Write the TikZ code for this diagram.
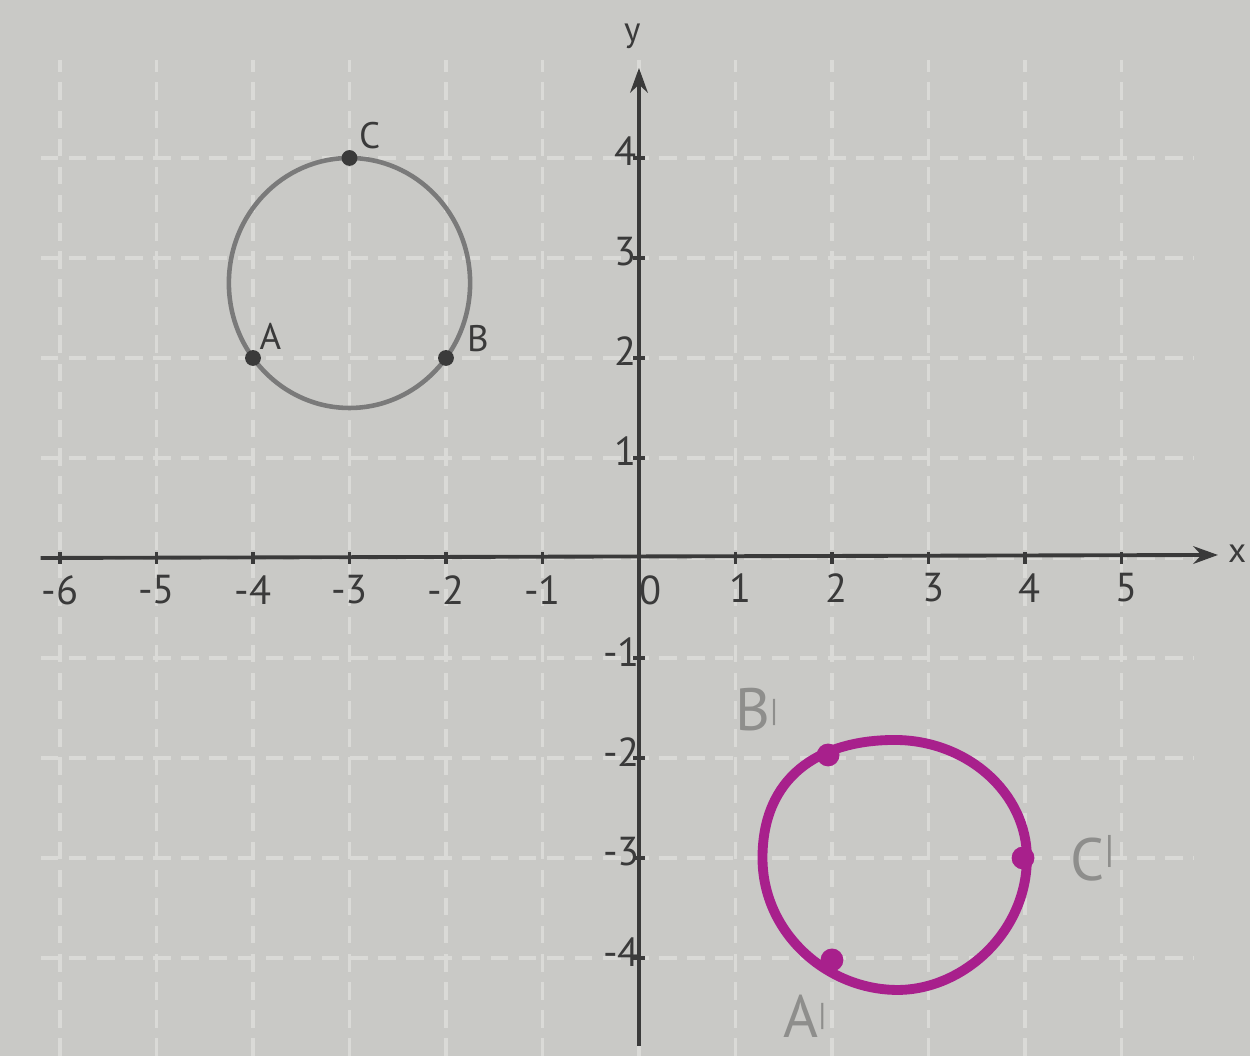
\documentclass[tikz,border=0pt]{standalone}
\usepackage{fontspec}
\setmainfont{PT Sans}
\usetikzlibrary{arrows.meta}
\definecolor{paper}{HTML}{C9C9C6}
\definecolor{gridc}{HTML}{DADAD7}
\definecolor{ink}{HTML}{3A3A3A}
\definecolor{pencil}{HTML}{7A7A7A}
\definecolor{mag}{HTML}{A8208C}
\definecolor{faint}{HTML}{8E8E8C}
\tikzset{
  gridline/.style={gridc, line width=0.9pt, dash pattern=on 5pt off 3pt},
  axis/.style={ink, line width=1.1pt, -{Stealth[length=7pt,width=5pt]}},
  ticklab/.style={ink, font=\fontsize{11.5}{12}\selectfont, inner sep=1pt},
  ptlab/.style={ink, font=\fontsize{10.5}{11}\selectfont, inner sep=1pt},
  primelab/.style={faint, font=\fontsize{17}{18}\selectfont, inner sep=1pt},
  dotpt/.style={circle, fill=ink, inner sep=0pt, minimum size=4.5pt},
  magdot/.style={circle, fill=mag, inner sep=0pt, minimum size=6.5pt}
}
\begin{document}
\begin{tikzpicture}[x=0.965cm,y=1cm]
\fill[paper] (-6.622,-4.98) rectangle (6.332,5.58);
\useasboundingbox (-6.622,-4.98) rectangle (6.332,5.58);
% grid
\foreach \i in {-6,...,5} \draw[gridline] (\i,-4.98) -- (\i,4.98);
\foreach \j in {-4,...,4} \draw[gridline] (-6.2,\j) -- (5.75,\j);
% axes
\coordinate (xs) at (-6.2,0);
\coordinate (xe) at (6.0,0.03);
\coordinate (ys) at (0,-4.88);
\coordinate (ye) at (0,4.9);
\draw[axis] (xs) -- (xe);
\draw[axis] (ys) -- (ye);
\node[ink, font=\fontsize{10}{10}\selectfont] (ylab) at (-0.07,5.22) {y};
\node[ink, font=\fontsize{10}{10}\selectfont] (xlab) at (6.2,0.04) {x};
% ticks
\foreach \i in {-6,...,5} \draw[ink, line width=1pt] (\i,-0.06) -- (\i,0.06);
\foreach \j in {-4,...,-1,1,2,3,4} \draw[ink, line width=1pt] (-0.06,\j) -- (0.06,\j);
\foreach \i in {-6,...,-1} \node[ticklab] (tx\i) at (\i,-0.32) {-\the\numexpr-\i\relax};
\node[ticklab] (tx0) at (0.12,-0.32) {0};
\foreach \i in {1,...,5} \node[ticklab] (tx\i) at (\i+0.05,-0.3) {\i};
\foreach \j in {1,...,4} \node[ticklab, anchor=south east] (ty\j) at (0.02,\j-0.12) {\j};
\foreach \j in {1,...,4} \node[ticklab, anchor=east] (tyn\j) at (0.05,-\j+0.06) {-\j};
% original circle
\draw[pencil, line width=1.3pt] (-3,2.75) ellipse [x radius=1.25, y radius=1.25];
\node[dotpt] (A) at (-4,2) {};
\node[dotpt] (B) at (-2,2) {};
\node[dotpt] (C) at (-3,4) {};
\node[ptlab] (Al) at (-3.82,2.22) {A};
\node[ptlab] (Bl) at (-1.67,2.19) {B};
\node[ptlab] (Cl) at (-2.79,4.22) {C};
% rotated circle (hand drawn)
\draw[mag, line width=2.8pt, line join=round]
  (1.28,-3) .. controls (1.28,-2.2) and (1.85,-1.82) .. (2.65,-1.82)
  .. controls (3.4,-1.82) and (4.02,-2.35) .. (4.02,-3)
  .. controls (4.02,-3.75) and (3.35,-4.32) .. (2.68,-4.32)
  .. controls (1.95,-4.32) and (1.28,-3.75) .. (1.28,-3);
\node[magdot] (Bp) at (1.96,-1.97) {};
\node[magdot] (Cp) at (3.98,-3.0) {};
\node[magdot] (Ap) at (2.0,-4.02) {};
\node[primelab] (Bpl) at (1.22,-1.52) {B\raisebox{0.3ex}{\fontsize{9}{9}\selectfont|}};
\node[primelab] (Cpl) at (4.7,-3.0) {C\raisebox{0.6ex}{\fontsize{11}{11}\selectfont|}};
\node[primelab] (Apl) at (1.72,-4.58) {A\raisebox{0.4ex}{\fontsize{9}{9}\selectfont|}};
\end{tikzpicture}
\end{document}
